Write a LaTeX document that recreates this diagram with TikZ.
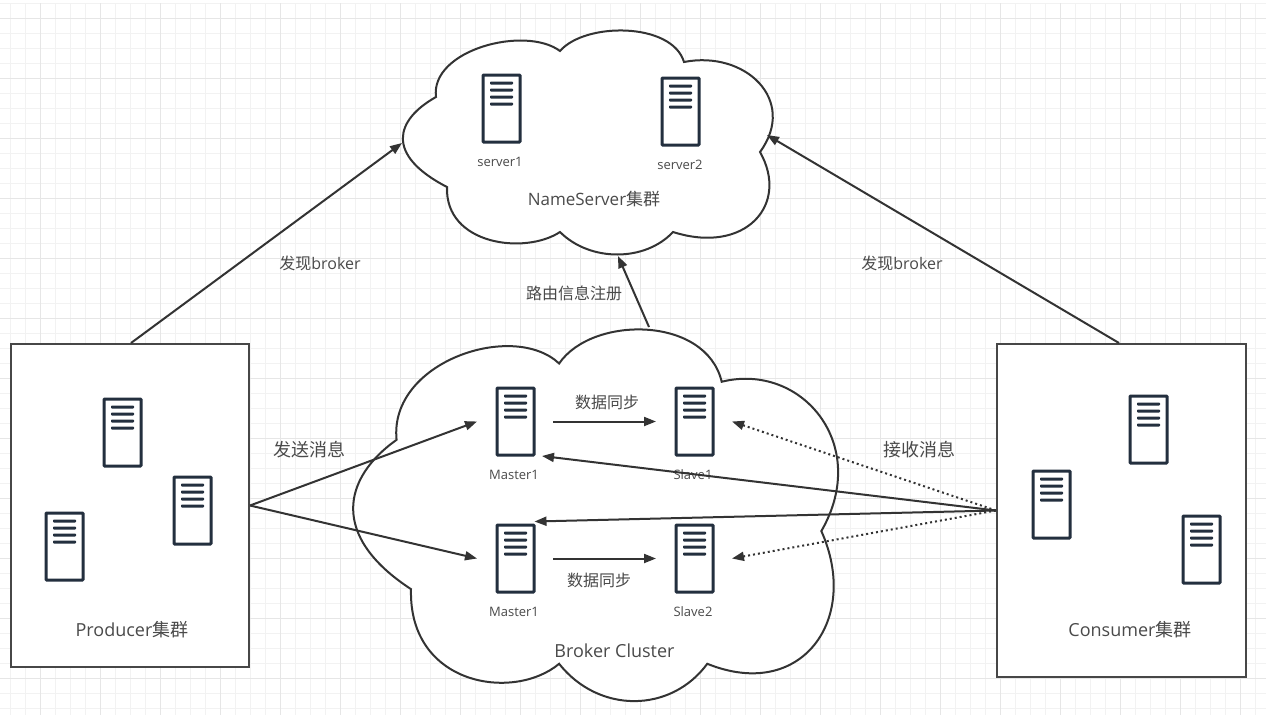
\documentclass[tikz,border=0pt]{standalone}
\usepackage{fontspec}
\setmainfont{Open Sans}
\newfontfamily\cjk{Noto Sans CJK SC}
\usetikzlibrary{arrows.meta}
\definecolor{ink}{HTML}{333333}
\definecolor{txt}{HTML}{4A4A4A}
\definecolor{iconc}{HTML}{232F3E}
\definecolor{gridminor}{HTML}{F2F2F2}
\definecolor{gridmajor}{HTML}{E6E6E6}
\tikzset{
  x=1pt,y=-1pt,
  serverbox/.style={draw=iconc,line width=3pt,rounded corners=0.8pt,fill=white,inner sep=0pt,minimum width=37pt,minimum height=67pt,
    path picture={
      \foreach \d in {6.5,13.5,20.5,27.5}{
        \fill[iconc] ([shift={(7,\d)}]path picture bounding box.north west) rectangle ([shift={(-7,\d+3)}]path picture bounding box.north east);
      }
    }},
  clusterbox/.style={draw=ink!90,line width=2pt,fill=white,inner sep=0pt},
  cloudline/.style={draw=ink,line width=2pt,fill=white,line join=miter},
  conn/.style={draw=ink,line width=2pt,-{Triangle[length=12pt,width=9pt]}},
  dotconn/.style={conn,dash pattern=on 2pt off 3pt},
  smalltext/.style={text=txt,font=\fontsize{13}{15}\selectfont,inner sep=0pt},
  midtext/.style={text=txt,font=\fontsize{16}{19}\cjk,inner sep=0pt},
  bigtext/.style={text=txt,font=\fontsize{18}{21}\selectfont,inner sep=0pt},
}
\newcommand{\cloudshape}{%
  \path[cloudline] (436,97) .. controls (430,50) and (525,25) .. (560,51)
    .. controls (585,22) and (672,22) .. (684,62)
    .. controls (745,50) and (798,100) .. (760,152)
    .. controls (790,205) and (745,255) .. (673,232)
    .. controls (645,262) and (590,262) .. (560,232)
    .. controls (525,255) and (445,245) .. (447,187)
    .. controls (385,155) and (395,120) .. (436,97) -- cycle;
}
\begin{document}
\begin{tikzpicture}
\useasboundingbox (0,0) rectangle (1266,715);
\fill[white] (0,0) rectangle (1266,715);
% grid
\foreach \i in {0,...,84}{\draw[gridminor,line width=1pt] (10.5+15*\i,3) -- (10.5+15*\i,715);}
\foreach \i in {0,...,47}{\draw[gridminor,line width=1pt] (0,3.5+15*\i) -- (1266,3.5+15*\i);}
\foreach \i in {0,...,20}{\draw[gridmajor,line width=1pt] (40.5+60*\i,3) -- (40.5+60*\i,715);}
\foreach \i in {0,...,11}{\draw[gridmajor,line width=1pt] (0,18.5+60*\i) -- (1266,18.5+60*\i);}

% clouds
\begin{scope}
  \cloudshape
  \coordinate (nameleft) at (402,143);
  \coordinate (nameright) at (767,135);
  \coordinate (namebottom) at (618,256);
\end{scope}
\begin{scope}[shift={(352,327)},xscale=1.311,yscale=1.659,shift={(-402,-29)}]
  \cloudshape
\end{scope}
\coordinate (brokertop) at (649,327);

% cluster boxes
\node[clusterbox,minimum width=238pt,minimum height=323pt] (producer) at (130,505.5) {};
\node[clusterbox,minimum width=249pt,minimum height=333pt] (consumer) at (1121.5,510.5) {};

% servers
\node[serverbox] (server1) at (501.5,108.5) {};
\node[serverbox] (server2) at (680.5,111.5) {};
\node[serverbox] (master1) at (515.5,421.5) {};
\node[serverbox] (slave1) at (694.5,421.5) {};
\node[serverbox] (master2) at (515.5,558.5) {};
\node[serverbox] (slave2) at (694.5,558.5) {};
\node[serverbox] (prodA) at (122.5,432.5) {};
\node[serverbox] (prodB) at (192.5,510.5) {};
\node[serverbox] (prodC) at (64.5,546.5) {};
\node[serverbox] (consA) at (1148.5,429.5) {};
\node[serverbox] (consB) at (1051.5,504.5) {};
\node[serverbox] (consC) at (1201.5,549.5) {};

% labels
\node[smalltext] (lserver1) at (500,161.5) {server1};
\node[smalltext] (lserver2) at (680,164.5) {server2};
\node[smalltext] (lmaster1) at (514,474.5) {Master1};
\node[smalltext] (lslave1) at (693,474.5) {Slave1};
\node[smalltext] (lmaster2) at (514,611.5) {Master1};
\node[smalltext] (lslave2) at (693,611.5) {Slave2};
\node[bigtext,font=\fontsize{17}{20}\selectfont] (lname) at (594,199.5) {NameServer{\cjk 集群}};
\node[bigtext] (lprod) at (132,629.5) {Producer{\cjk 集群}};
\node[bigtext] (lbroker) at (614.5,650.5) {Broker Cluster};
\node[bigtext] (lcons) at (1130,629.5) {Consumer{\cjk 集群}};
\node[text=txt,font=\fontsize{16}{19}\selectfont,inner sep=0pt] (lfind1) at (320,263) {{\cjk 发现}broker};
\node[text=txt,font=\fontsize{16}{19}\selectfont,inner sep=0pt] (lfind2) at (902,263) {{\cjk 发现}broker};
\node[midtext] (lroute) at (574,293) {路由信息注册};
\node[midtext,font=\fontsize{18}{21}\cjk] (lsend) at (309,450) {发送消息};
\node[midtext,font=\fontsize{18}{21}\cjk] (lrecv) at (919,450) {接收消息};
\node[midtext] (lsync1) at (607,402) {数据同步};
\node[midtext] (lsync2) at (599,580) {数据同步};

% connectors
\draw[conn] ([xshift=1]producer.north) -- (nameleft);
\draw[conn] ([xshift=-2.5]consumer.north) -- (nameright);
\draw[conn] (brokertop) -- (namebottom);
\draw[conn] (producer.east) -- ([xshift=-18.5]master1.west);
\draw[conn] (producer.east) -- ([xshift=-18.5]master2.west);
\draw[conn,shorten <=17.5pt,shorten >=18.5pt] (master1.east) -- (slave1.west);
\draw[conn,shorten <=17.5pt,shorten >=18.5pt] (master2.east) -- (slave2.west);
\draw[conn] (consumer.west) -- ([shift={(6.5,-0.5)}]master1.south east);
\draw[conn] (consumer.west) -- ([shift={(-1,-2)}]master2.north east);
\draw[dotconn] (consumer.west) -- ([xshift=17.5]slave1.east);
\draw[dotconn] (consumer.west) -- ([xshift=17.5]slave2.east);
\end{tikzpicture}
\end{document}
